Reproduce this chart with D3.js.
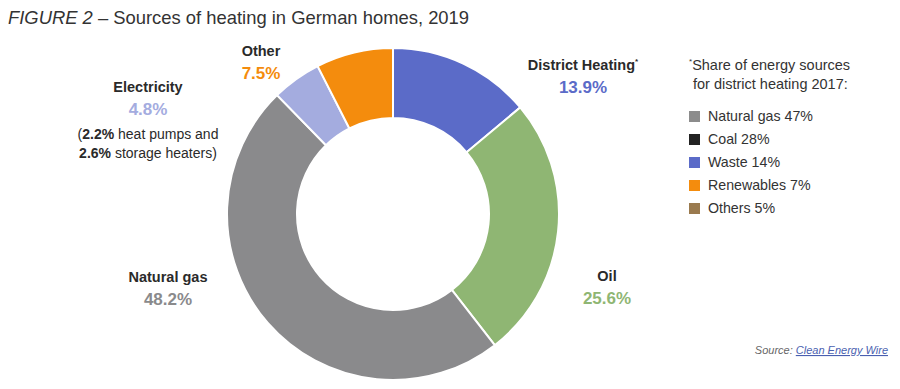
<!DOCTYPE html>
<html>
<head>
<meta charset="utf-8">
<script src="https://cdn.jsdelivr.net/npm/d3@7"></script>
<style>
  body { margin: 0; background: #fff; }
  svg text { font-family: "Liberation Sans", Arial, sans-serif; }
</style>
</head>
<body>
<svg id="chart" width="900" height="389" viewBox="0 0 900 389"></svg>
<script>
// --- data ---
const categories = ["District Heating", "Oil", "Natural gas", "Electricity", "Other"];
const shares = [13.9, 25.6, 48.2, 4.8, 7.5];
const sliceColors = ["#5b6bc8", "#8fb673", "#8a8a8c", "#a4acdf", "#f48c0d"];

const legendLabels = ["Natural gas 47%", "Coal 28%", "Waste 14%", "Renewables 7%", "Others 5%"];
const legendColors = ["#8c8c8c", "#222222", "#5b6bc8", "#f48c0d", "#9a7a4e"];

const svg = d3.select("#chart");
const cx = 393, cy = 214;
const outerR = 166, innerR = 96;

// title
const title = svg.append("text").attr("x", 8).attr("y", 24)
    .attr("font-size", 18.4).attr("fill", "#333");
title.append("tspan").attr("font-style", "italic").text("FIGURE 2");
title.append("tspan").text(" – Sources of heating in German homes, 2019");

// donut
const pie = d3.pie().sort(null).value(d => d.value);
const arc = d3.arc().innerRadius(innerR).outerRadius(outerR);
const arcs = pie(categories.map((c, i) => ({ name: c, value: shares[i], color: sliceColors[i] })));

svg.append("g").attr("transform", `translate(${cx},${cy})`)
    .selectAll("path").data(arcs).enter().append("path")
    .attr("d", arc)
    .attr("fill", d => d.data.color)
    .attr("stroke", "#fff").attr("stroke-width", 2);

// slice labels (name + percentage)
const labelPos = {
    "District Heating": [583, 70],
    "Oil": [607, 281],
    "Natural gas": [168, 282],
    "Electricity": [148, 92],
    "Other": [261, 56]
};
const fmt = d3.format(".1f");
arcs.forEach(a => {
    const [lx, ly] = labelPos[a.data.name];
    const t = svg.append("text").attr("x", lx).attr("y", ly)
        .attr("text-anchor", "middle").attr("font-size", 14.5)
        .attr("font-weight", "bold").attr("fill", "#2a2a2a")
        .text(a.data.name);
    if (a.data.name === "District Heating") {
        t.append("tspan").attr("font-size", 8).attr("dy", -6).text("*");
    }
    svg.append("text").attr("x", lx).attr("y", ly + 23)
        .attr("text-anchor", "middle").attr("font-size", 17)
        .attr("font-weight", "bold").attr("fill", a.data.color)
        .text(fmt(a.value) + "%");
});

// electricity note
const note = [["2.2%", " heat pumps and", "("], ["2.6%", " storage heaters)", ""]];
note.forEach((n, i) => {
    const t = svg.append("text").attr("x", 148).attr("y", 139 + i * 19)
        .attr("text-anchor", "middle").attr("font-size", 14).attr("fill", "#2a2a2a");
    t.append("tspan").text(n[2]);
    t.append("tspan").attr("font-weight", "bold").text(n[0]);
    t.append("tspan").text(n[1]);
});

// legend
const lg = svg.append("g").attr("transform", "translate(689,0)");
lg.append("text").attr("x", 0).attr("y", 70).attr("font-size", 14.5).attr("fill", "#333")
    .call(t => {
        t.append("tspan").attr("font-size", 8).attr("dy", -6).text("*");
        t.append("tspan").attr("dy", 6).text("Share of energy sources");
    });
lg.append("text").attr("x", 4).attr("y", 89).attr("font-size", 14.5).attr("fill", "#333")
    .text("for district heating 2017:");

const ly = d3.scalePoint().domain(legendLabels).range([116, 208]);
const items = lg.selectAll("g.item").data(legendLabels).enter().append("g").attr("class", "item");
items.append("rect").attr("x", 0).attr("y", d => ly(d) - 5)
    .attr("width", 11).attr("height", 11)
    .attr("fill", (d, i) => legendColors[i]);
items.append("text").attr("x", 19).attr("y", d => ly(d) + 5)
    .attr("font-size", 14.2).attr("fill", "#333").text(d => d);

// source
const src = svg.append("text").attr("x", 888).attr("y", 354)
    .attr("text-anchor", "end").attr("font-size", 11).attr("font-style", "italic");
src.append("tspan").attr("fill", "#666").text("Source: ");
src.append("tspan").attr("fill", "#4a5fb0").attr("text-decoration", "underline").text("Clean Energy Wire");
</script>
</body>
</html>
